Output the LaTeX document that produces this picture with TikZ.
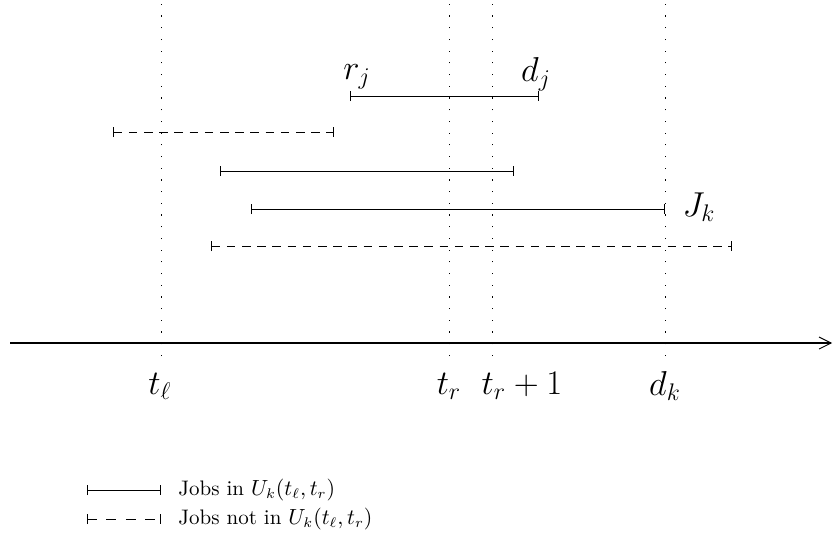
\documentclass[tikz,border=0pt]{standalone}
\usetikzlibrary{arrows.meta}
\begin{document}
\begin{tikzpicture}[x=0.5pt,y=-0.5pt,
  vdot/.style={line width=0.5pt,dash pattern=on 0.6pt off 5.25pt},
  job/.style={line width=0.45pt,{Bar[width=5pt]}-{Bar[width=5pt]}},
  jobout/.style={job,dash pattern=on 4.3pt off 3.3pt},
  legout/.style={job,dash pattern=on 5pt off 4.8pt,dash phase=0.5pt},
  lbl/.style={font=\fontsize{16.4}{20}\selectfont,inner sep=0pt},
  legtxt/.style={anchor=west,inner sep=0pt,font=\fontsize{10.5}{13}\selectfont}]
\useasboundingbox (0,0) rectangle (833,540);
% time points
\coordinate (tlT) at (161,2); \coordinate (tlB) at (161,356);
\coordinate (trT) at (449,2); \coordinate (trB) at (449,356);
\coordinate (tpT) at (492,2); \coordinate (tpB) at (492,356);
\coordinate (dkT) at (665,2); \coordinate (dkB) at (665,356);
\draw[vdot] (tlB) -- (tlT);
\draw[vdot] (trB) -- (trT);
\draw[vdot] (tpB) -- (tpT);
\draw[vdot] (dkB) -- (dkT);
% axis
\coordinate (ax0) at (10,343);
\coordinate (ax1) at (832,343);
\draw[line width=0.55pt,-{Straight Barb[length=6pt,width=6pt,line width=0.45pt]}] (ax0) -- (ax1);
\node[lbl] (ltl) at (160,386) {$t_\ell$};
\node[lbl] (ltr) at (449,386) {$t_r$};
\node[lbl] (ltp) at (522,386) {$t_r+1$};
\node[lbl] (ldk) at (665,386) {$d_k$};
% job j
\coordinate (rj) at (350,96); \coordinate (dj) at (539,96);
\draw[job] (rj) -- (dj);
\node[lbl] (lrj) at (357,77) {$r_j$};
\node[lbl] (ldj) at (536,74) {$d_j$};
% other jobs
\coordinate (a1) at (113,132); \coordinate (b1) at (334,132);
\draw[jobout] (a1) -- (b1);
\coordinate (a2) at (220,171); \coordinate (b2) at (514,171);
\draw[job] (a2) -- (b2);
\coordinate (a3) at (251,209); \coordinate (b3) at (665,209);
\draw[job] (a3) -- (b3);
\node[lbl] (ljk) at (699,207) {$J_k$};
\coordinate (a4) at (211,246); \coordinate (b4) at (732,246);
\draw[jobout] (a4) -- (b4);
% legend
\coordinate (la1) at (87,490); \coordinate (lb1) at (161,490);
\draw[job] (la1) -- (lb1);
\node[legtxt] (lt1) at (178,490) {Jobs in $U_k(t_\ell,t_r)$};
\coordinate (la2) at (87,519); \coordinate (lb2) at (161,519);
\draw[legout] (la2) -- (lb2);
\node[legtxt] (lt2) at (178,519) {Jobs not in $U_k(t_\ell,t_r)$};
\end{tikzpicture}
\end{document}
